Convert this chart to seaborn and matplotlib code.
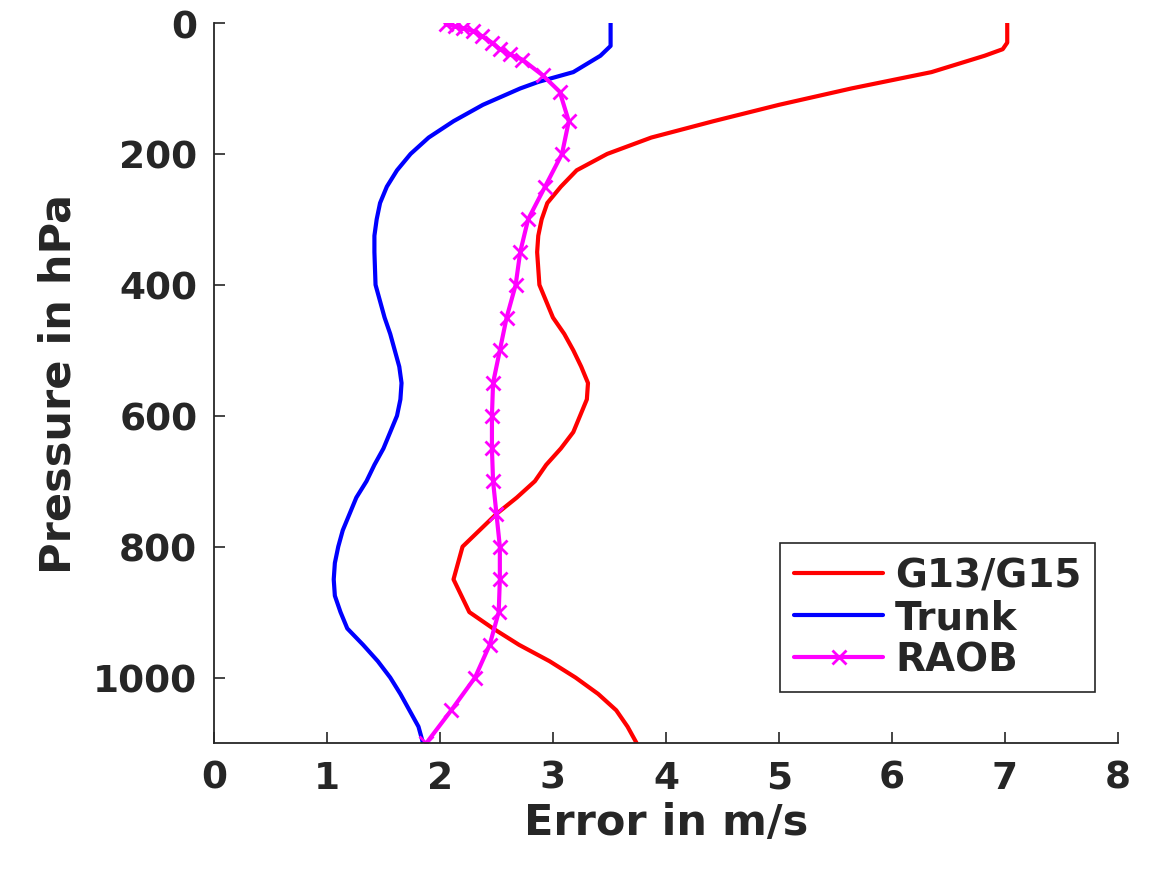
import pandas as pd
import matplotlib
matplotlib.use('Agg')
import matplotlib.pyplot as plt
import seaborn as sns

# pressure levels (hPa) and errors (m/s)
g13_p = [0, 30, 40, 50, 75, 100, 125, 150, 175, 200, 225, 250, 275, 300, 325, 350,
         400, 450, 475, 500, 525, 550, 575, 600, 625, 650, 675, 700, 725, 750, 775,
         800, 825, 850, 875, 900, 925, 950, 975, 1000, 1025, 1050, 1075, 1100]
g13_err = [7.02, 7.02, 6.98, 6.82, 6.35, 5.64, 5.0, 4.42, 3.87, 3.48, 3.21, 3.07, 2.95,
           2.9, 2.87, 2.86, 2.88, 3.0, 3.1, 3.18, 3.25, 3.31, 3.3, 3.24, 3.18, 3.07,
           2.94, 2.84, 2.68, 2.5, 2.35, 2.2, 2.16, 2.12, 2.19, 2.26, 2.47, 2.7, 2.97,
           3.2, 3.4, 3.56, 3.66, 3.74]

trunk_p = [0, 35, 50, 75, 90, 100, 125, 150, 175, 200, 225, 250, 275, 300, 325, 350,
           400, 450, 475, 500, 525, 550, 575, 600, 625, 650, 675, 700, 725, 750, 775,
           800, 825, 850, 875, 900, 925, 950, 975, 1000, 1025, 1050, 1075, 1100]
trunk_err = [3.51, 3.51, 3.42, 3.18, 2.87, 2.71, 2.38, 2.12, 1.9, 1.74, 1.62, 1.53,
             1.47, 1.44, 1.42, 1.42, 1.43, 1.51, 1.56, 1.6, 1.64, 1.66, 1.65, 1.62,
             1.56, 1.5, 1.42, 1.35, 1.26, 1.2, 1.14, 1.1, 1.07, 1.06, 1.07, 1.12,
             1.18, 1.32, 1.45, 1.56, 1.65, 1.73, 1.81, 1.85]

raob_p = [1, 5, 8, 12, 20, 30, 40, 48, 56, 80, 105, 150, 200, 250, 300, 350, 400, 450,
          500, 550, 600, 650, 700, 750, 800, 850, 900, 950, 1000, 1050, 1100]
raob_err = [2.05, 2.13, 2.2, 2.29, 2.37, 2.46, 2.53, 2.62, 2.73, 2.91, 3.06, 3.14, 3.08,
            2.93, 2.78, 2.71, 2.67, 2.59, 2.53, 2.47, 2.46, 2.46, 2.47, 2.5, 2.53, 2.53,
            2.52, 2.44, 2.31, 2.1, 1.88]

series = ['G13/G15', 'Trunk', 'RAOB']
colors = ['#ff0000', '#0000ff', '#ff00ff']

df = pd.concat([
    pd.DataFrame({'err': g13_err, 'p': g13_p, 'src': series[0]}),
    pd.DataFrame({'err': trunk_err, 'p': trunk_p, 'src': series[1]}),
    pd.DataFrame({'err': raob_err, 'p': raob_p, 'src': series[2]}),
])

sns.set_style('ticks')
plt.rcParams['font.family'] = ['DejaVu Sans']
plt.rcParams['font.weight'] = 'bold'
dark = '#262626'

fig = plt.figure(figsize=(11.49, 8.7), dpi=100)
ax = fig.add_axes([0.1862, 0.1448, 0.7868, 0.8276])

for name, col in zip(series, colors):
    sub = df[df['src'] == name]
    sns.lineplot(x='err', y='p', data=sub, sort=False, estimator=None, ax=ax,
                 color=col, linewidth=3, label=name,
                 marker='x' if name == 'RAOB' else None,
                 markersize=10, markeredgewidth=2, markeredgecolor=col)

ax.set_xlim(0, 8)
ax.set_ylim(1100, 0)
ax.set_xticks(range(0, 9))
ax.set_yticks(range(0, 1001, 200))
ax.set_xlabel('Error in m/s', fontsize=31, fontweight='bold', color=dark, labelpad=4)
ax.set_ylabel('Pressure in hPa', fontsize=31, fontweight='bold', color=dark, labelpad=10)
ax.tick_params(direction='in', length=8, width=1.2, colors=dark, labelsize=27, pad=12)
for lab in ax.get_xticklabels() + ax.get_yticklabels():
    lab.set_fontweight('bold')
sns.despine(ax=ax)
for s in ['left', 'bottom']:
    ax.spines[s].set_color(dark)
    ax.spines[s].set_linewidth(1.3)

leg = ax.legend(loc='lower right', bbox_to_anchor=(0.9746, 0.0708), borderaxespad=0,
                fontsize=28, frameon=True, fancybox=False, framealpha=1,
                handlelength=2.3, handletextpad=0.3, labelspacing=0.1,
                borderpad=0.35)
leg.get_frame().set_edgecolor(dark)
leg.get_frame().set_linewidth(1.2)
for t in leg.get_texts():
    t.set_fontweight('bold')

fig.savefig('out.png', dpi=100)
